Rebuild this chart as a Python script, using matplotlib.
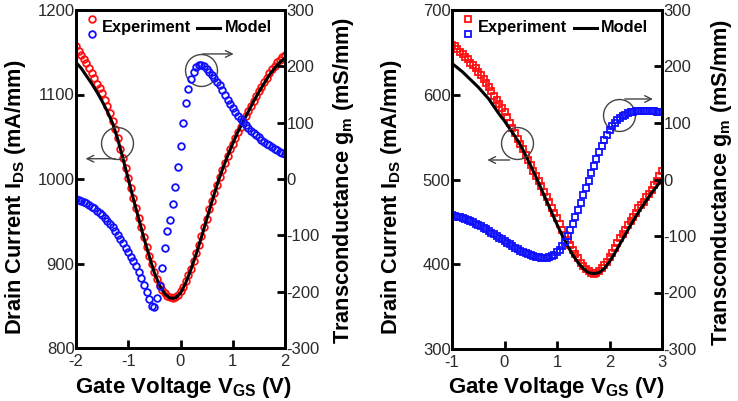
"""
Drain current and transconductance vs gate voltage, two devices.
"""
import numpy as np
import matplotlib
matplotlib.use("Agg")
import matplotlib.pyplot as plt

plt.rcParams["font.family"] = ["Liberation Sans", "DejaVu Sans"]
plt.rcParams["mathtext.fontset"] = "custom"
plt.rcParams["mathtext.rm"] = "Liberation Sans"
plt.rcParams["mathtext.bf"] = "Liberation Sans:bold"
plt.rcParams["axes.unicode_minus"] = False

# ---- left device (circles) ----
vgs_a = np.round(np.arange(-2.0, 2.0001, 0.05), 2)
ids_exp_a = [1157, 1152, 1147, 1142, 1137, 1131, 1125, 1119, 1113, 1108,
             1102, 1094, 1086, 1078, 1069, 1059, 1048, 1036, 1025, 1013,
             1001, 989, 977, 966, 954, 943, 931, 920, 909, 899,
             890, 882, 875, 869, 865, 862, 860, 859, 860, 863,
             867, 872, 879, 886, 894, 903, 912, 922, 932, 943,
             953, 964, 974, 984, 993, 1002, 1011, 1019, 1027, 1035,
             1042, 1049, 1056, 1062, 1068, 1074, 1080, 1086, 1092, 1098,
             1104, 1109, 1115, 1120, 1125, 1130, 1134, 1138, 1141, 1144,
             1147]
gm_exp_a = [-35, -37, -39, -41, -43, -46, -49, -52, -56, -60,
            -64, -69, -74, -80, -86, -93, -100, -107, -114, -122,
            -130, -138, -146, -155, -165, -176, -188, -200, -213, -225,
            -228, -212, -190, -158, -122, -92, -72, -45, -15, 22,
            58, 100, 135, 160, 177, 190, 198, 203, 203, 200,
            196, 190, 185, 179, 173, 166, 158, 150, 141, 133,
            126, 119, 112, 106, 101, 96, 91, 86, 82, 78,
            74, 70, 66, 63, 60, 57, 54, 51, 48, 46,
            44]
vgs_model_a = np.round(np.arange(-2.0, 2.0001, 0.1), 1)
ids_model_a = [1138, 1131, 1122, 1113, 1103, 1092, 1080, 1066, 1047, 1024,
               1000, 976, 953, 930, 909, 889, 874, 864, 859, 859,
               865, 877, 893, 911, 931, 952, 973, 993, 1011, 1027,
               1042, 1056, 1068, 1080, 1092, 1103, 1113, 1123, 1131, 1138,
               1143]

# ---- right device (squares) ----
vgs_b = np.round(np.arange(-1.0, 3.0001, 0.05), 2)
ids_exp_b = [659, 657, 654, 651, 648, 645, 642, 638, 635, 631,
             627, 623, 618, 614, 609, 604, 599, 594, 589, 584,
             580, 574, 567, 561, 555, 548, 542, 536, 529, 523,
             517, 510, 504, 498, 492, 485, 479, 473, 466, 460,
             454, 448, 441, 435, 429, 423, 417, 412, 407, 402,
             398, 394, 392, 390, 389, 390, 392, 395, 399, 403,
             408, 413, 419, 425, 431, 436, 441, 446, 451, 456,
             461, 466, 470, 474, 479, 483, 488, 493, 498, 504,
             510]
gm_exp_b = [-63, -64, -66, -67, -69, -70, -72, -74, -76, -78,
            -80, -83, -85, -88, -91, -94, -97, -100, -103, -106,
            -109, -112, -115, -118, -121, -123, -126, -128, -130, -132,
            -134, -136, -137, -138, -139, -139, -139, -138, -136, -133,
            -129, -124, -118, -110, -100, -89, -78, -66, -54, -41,
            -28, -15, -2, 11, 24, 37, 49, 60, 70, 79,
            87, 94, 100, 105, 109, 112, 115, 117, 119, 120,
            121, 122, 122, 122, 122, 122, 121, 121, 120, 120,
            119]
vgs_model_b = np.round(np.arange(-1.0, 3.0001, 0.1), 1)
ids_model_b = [637, 632, 627, 621, 615, 609, 602, 595, 586, 577,
               569, 560, 551, 541, 529, 516, 503, 489, 475, 461,
               447, 434, 422, 411, 402, 395, 390, 389, 390, 395,
               403, 413, 424, 435, 446, 456, 466, 475, 484, 492,
               500]

RED = "#ff1010"
BLUE = "#1010ff"

fig = plt.figure(figsize=(7.38, 4.01), dpi=100)


def panel(rect, v, ids, gm, vm, idm, marker, xlim, ylim, ms,
          circles, arrows):
    ax = fig.add_axes(rect)
    ax2 = ax.twinx()
    ax.plot(v, ids, linestyle="none", marker=marker, ms=ms, mfc="none",
            mec=RED, mew=1.3)
    ax.plot(vm, idm, color="black", lw=2.2)
    ax2.plot(v, gm, linestyle="none", marker=marker, ms=ms, mfc="none",
             mec=BLUE, mew=1.3)
    ax.set_xlim(*xlim)
    ax.set_ylim(*ylim)
    ax2.set_ylim(-300, 300)
    ax.set_xticks(np.arange(xlim[0], xlim[1] + 1, 1))
    ax.set_yticks(np.arange(ylim[0], ylim[1] + 1, 100))
    ax2.set_yticks(np.arange(-300, 301, 100))
    for a in (ax, ax2):
        for s in a.spines.values():
            s.set_linewidth(2)
        a.tick_params(direction="in", length=6, width=2, labelsize=12,
                      labelcolor="#2a2a2a", pad=1)
    ax.tick_params(axis="x", pad=4)
    ax.tick_params(right=False, top=False)
    ax2.tick_params(left=False, top=False, bottom=False)

    # circles + arrows marking which axis each curve belongs to
    for (cx, cy) in circles:
        ax.plot([cx], [cy], marker="o", ms=23, mfc="none", mec="#444444",
                mew=1.0, zorder=5)
    for (x0, x1, y) in arrows:
        ax.annotate("", xy=(x1, y), xytext=(x0, y),
                    arrowprops=dict(arrowstyle="->", color="#444444",
                                    lw=1.0, mutation_scale=12), zorder=5)

    # legend drawn by hand
    t = ax.transAxes
    ax.plot([0.075], [0.972], marker=marker, ms=ms, mfc="none", mec=RED,
            mew=1.3, transform=t, clip_on=False)
    ax.plot([0.075], [0.928], marker=marker, ms=ms, mfc="none", mec=BLUE,
            mew=1.3, transform=t, clip_on=False)
    ax.text(0.125, 0.947, "Experiment", transform=t, fontsize=11.8,
            fontweight="bold", va="center", ha="left")
    ax.plot([0.58, 0.69], [0.947, 0.947], color="black", lw=2.2,
            transform=t)
    ax.text(0.71, 0.947, "Model", transform=t, fontsize=11.8,
            fontweight="bold", va="center", ha="left")
    return ax, ax2


panel([76 / 738, 53 / 401, 209 / 738, 338 / 401],
      vgs_a, ids_exp_a, gm_exp_a, vgs_model_a, ids_model_a, "o",
      (-2, 2), (800, 1200), 4.8,
      circles=[(-1.215, 1043), (0.39, 1129)],
      arrows=[(-1.2, -1.87, 1024), (0.37, 1.07, 1148)])

panel([452 / 738, 52 / 401, 210 / 738, 339 / 401],
      vgs_b, ids_exp_b, gm_exp_b, vgs_model_b, ids_model_b, "s",
      (-1, 3), (300, 700), 4.0,
      circles=[(0.24, 543), (2.18, 576)],
      arrows=[(0.15, -0.38, 523), (2.24, 2.88, 595)])

xlab = dict(fontsize=16, fontweight="bold", ha="center", va="center")
ylab = dict(fontsize=15.7, fontweight="bold", ha="center", va="center",
            rotation=90)
fig.text(184 / 738, 1 - 387 / 401, r"Gate Voltage V$_\mathbf{GS}$ (V)", **xlab)
fig.text(557 / 738, 1 - 387 / 401, r"Gate Voltage V$_\mathbf{GS}$ (V)", **xlab)
fig.text(16 / 738, 1 - 197 / 401, r"Drain Current I$_\mathbf{DS}$ (mA/mm)",
         **ylab)
fig.text(392 / 738, 1 - 197 / 401, r"Drain Current I$_\mathbf{DS}$ (mA/mm)",
         **ylab)
fig.text(343 / 738, 1 - 180 / 401, r"Transconductance g$_\mathbf{m}$ (mS/mm)",
         **ylab)
fig.text(721 / 738, 1 - 182 / 401, r"Transconductance g$_\mathbf{m}$ (mS/mm)",
         **ylab)

fig.savefig("out.png", dpi=100)
